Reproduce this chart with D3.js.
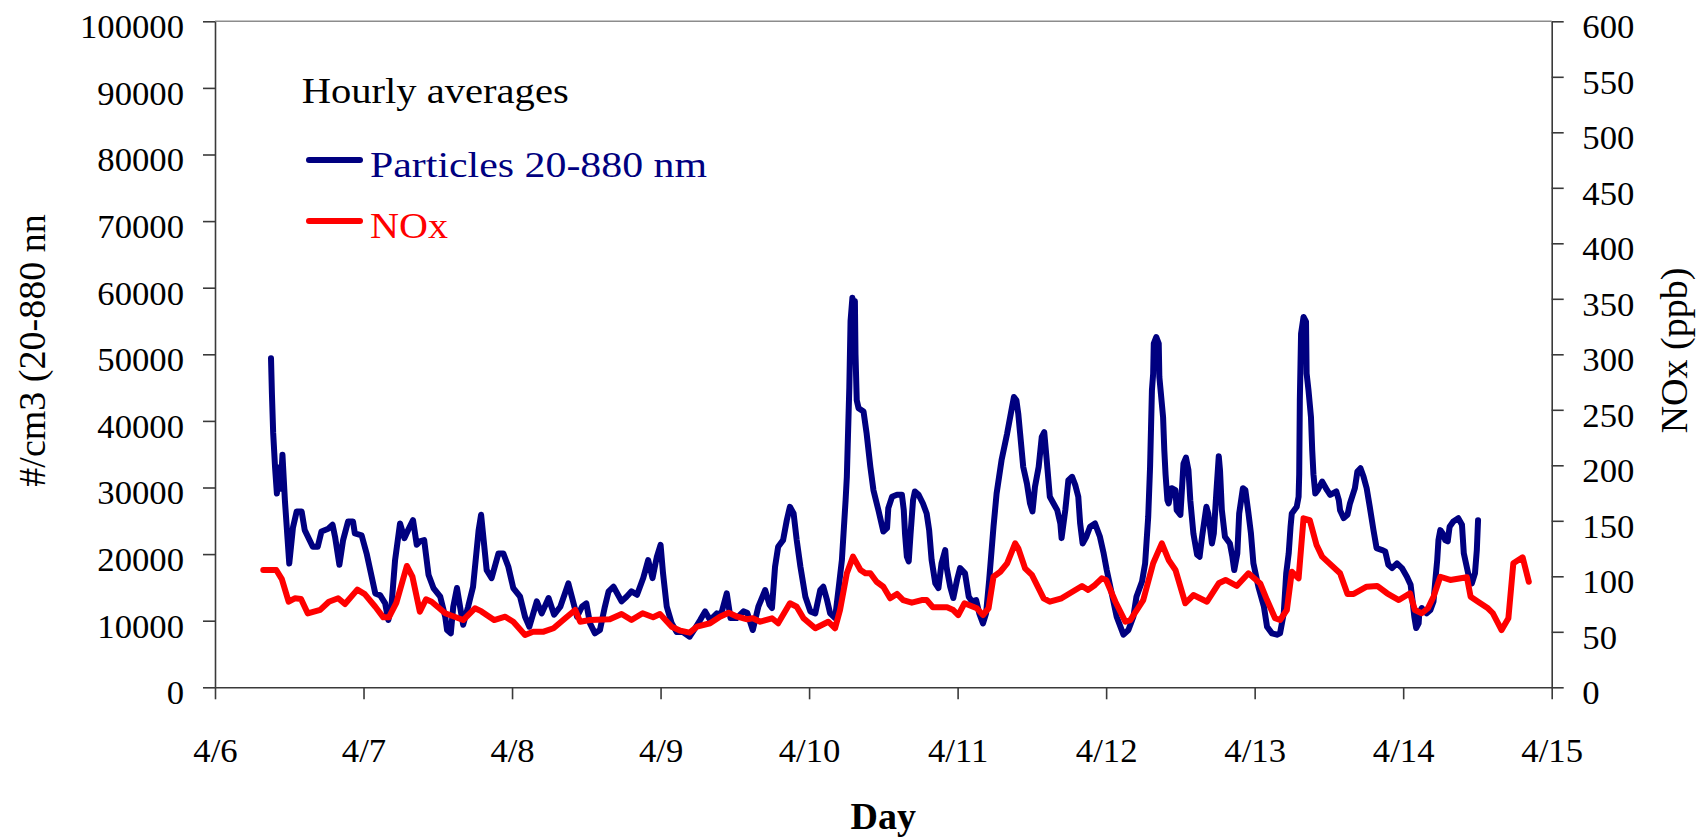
<!DOCTYPE html>
<html><head><meta charset="utf-8">
<script src="https://cdn.jsdelivr.net/npm/d3@7"></script>
<style>
body{margin:0;background:#fff}
svg{display:block}
text{font-family:"Liberation Serif","Times New Roman",serif}
</style>
</head><body>
<svg id="c" width="1704" height="838"></svg>
<script>
// ---- data (hours since 4/6 00:00) ----
const dayLabels = ["4/6","4/7","4/8","4/9","4/10","4/11","4/12","4/13","4/14","4/15"];
const dayTicks = [0,24,48,72,96,120,144,168,192,216];
const leftTicks = [0,10000,20000,30000,40000,50000,60000,70000,80000,90000,100000];
const rightTicks = [0,50,100,150,200,250,300,350,400,450,500,550,600];

const particles = [
[9.05,49400],[9.2,44000],[9.4,38200],[9.7,33100],[10.0,29100],[10.3,33000],[10.6,29800],[10.9,34900],[11.3,28000],[12.0,18600],
[12.6,24000],[13.2,26400],[14.0,26400],[14.5,23600],[15.8,21100],[16.6,21100],[17.2,23400],[18.3,23800],[19.0,24400],[19.4,22600],
[20.1,18400],[20.7,22100],[21.5,24900],[22.3,24900],[22.6,23100],[23.7,22800],[24.5,20100],[25.9,14100],[26.7,13800],[27.5,12600],
[28.0,10100],[28.5,12000],[29.1,19100],[29.9,24600],[30.6,22400],[31.2,23600],[32.0,25100],[32.6,21400],[33.1,21900],[33.8,22100],
[34.5,16900],[35.3,14900],[36.4,13600],[37.2,10600],[37.5,8600],[38.1,8100],[38.5,12100],[39.1,14900],[39.6,12100],[40.1,9400],
[40.9,12100],[41.7,15100],[42.6,23600],[43.0,25900],[43.9,17600],[44.7,16400],[45.8,20100],[46.6,20100],[47.4,18100],[48.2,14900],
[49.3,13600],[50.1,10600],[50.8,9100],[52.0,12900],[52.8,11100],[53.9,13400],[54.8,10900],[55.8,12100],[57.1,15600],[57.8,13100],
[58.5,10600],[59.3,12100],[60.0,12600],[60.6,9600],[61.4,8100],[62.2,8600],[63.0,12100],[63.6,14400],[64.4,15100],[65.7,12900],
[66.5,13600],[67.3,14400],[68.2,13900],[69.2,16400],[70.0,19100],[70.7,16400],[71.4,19600],[72.0,21400],[72.4,17100],[73.0,12100],
[73.8,9600],[74.6,8300],[75.6,8300],[76.7,7600],[77.6,8900],[78.4,10100],[79.2,11400],[80.0,10100],[81.1,11100],[81.8,11000],
[82.7,14100],[83.3,10400],[84.3,10400],[85.4,11400],[86.0,11200],[86.9,8600],[87.8,12100],[88.9,14600],[89.6,12400],[90.0,11900],
[90.5,18100],[91.0,21100],[91.8,22100],[92.4,25100],[92.9,27100],[93.5,26100],[94.0,22100],[94.6,18100],[95.4,13600],[96.2,11400],
[97.0,11100],[97.8,14600],[98.3,15100],[98.9,13100],[99.4,11100],[100.2,10400],[100.8,15100],[101.3,19100],[101.9,28100],[102.1,31600],
[102.5,45000],[102.7,55000],[103.0,58500],[103.2,56500],[103.4,58000],[103.5,50000],[103.7,43100],[104.0,41900],[104.8,41400],[105.3,38100],
[105.9,33100],[106.4,29600],[107.2,26600],[108.0,23400],[108.6,23900],[108.8,26900],[109.4,28600],[110.2,28900],[111.0,28900],[111.3,26600],
[111.5,23100],[111.8,19600],[112.1,18900],[112.4,23100],[112.8,28100],[113.1,29400],[113.7,28900],[114.4,27600],[115.0,26100],[115.4,23600],
[115.8,19100],[116.4,15600],[116.9,14900],[117.4,18600],[118.0,20600],[118.2,18100],[118.8,15100],[119.3,13400],[119.9,16100],[120.4,17900],
[121.2,17100],[121.8,13600],[122.3,12900],[123.0,13100],[123.5,11100],[124.1,9600],[124.6,11100],[125.1,16100],[125.8,24100],[126.3,29100],
[127.1,34100],[128.0,38100],[128.8,42100],[129.1,43600],[129.5,43100],[129.8,41100],[130.1,38100],[130.6,33100],[131.2,30600],[131.7,27600],
[132.1,26400],[132.5,30100],[133.1,33100],[133.6,37600],[134.0,38300],[134.4,34100],[134.9,28600],[135.5,27600],[136.1,26600],[136.6,24600],
[136.8,22400],[137.4,26600],[137.9,31100],[138.5,31600],[139.0,30400],[139.5,28600],[139.8,24600],[140.2,21600],[140.8,22600],[141.4,24100],
[142.2,24600],[143.0,22600],[143.6,20100],[144.1,17600],[144.9,14100],[145.7,10600],[146.8,7900],[147.6,8600],[148.4,10600],[148.9,13600],
[149.8,15900],[150.3,18600],[150.8,25600],[151.1,33100],[151.4,44600],[151.6,47100],[151.7,51600],[152.1,52600],[152.5,51600],[152.6,46600],
[152.8,44600],[153.2,40600],[153.4,35600],[153.6,32000],[153.9,28100],[154.1,27600],[154.6,29900],[155.2,29600],[155.4,26600],[156.0,25900],
[156.5,33600],[156.9,34500],[157.3,32600],[157.6,28100],[158.1,23100],[158.7,19900],[159.1,19600],[159.5,22600],[160.2,27100],[160.5,26100],
[161.1,21600],[161.4,23100],[161.8,29100],[162.2,34700],[162.4,32600],[162.7,26600],[163.2,22600],[164.0,21600],[164.4,19600],[164.7,17600],
[165.2,20100],[165.5,26100],[166.1,29900],[166.5,29600],[167.0,26100],[167.4,23100],[167.8,18600],[168.6,15100],[169.5,12100],[170.0,9100],
[170.8,8100],[171.6,7900],[172.1,8100],[172.7,11100],[173.1,17100],[173.5,20100],[173.8,24100],[174.0,26100],[174.8,27100],[175.1,28600],
[175.2,32000],[175.3,43100],[175.5,53100],[175.9,55600],[176.3,54900],[176.4,47100],[176.7,44600],[177.1,40600],[177.3,35600],[177.5,32000],
[177.8,29100],[178.2,29600],[178.9,30900],[179.7,29600],[180.2,28900],[181.2,29400],[181.6,28100],[181.8,26600],[182.4,25400],[183.0,25900],
[183.4,27600],[184.2,29900],[184.6,32400],[185.1,32900],[185.6,31600],[186.1,29900],[186.6,27100],[187.2,23600],[187.7,20900],[188.6,20600],
[189.1,20400],[189.6,18400],[190.2,17900],[191.0,18600],[191.8,17900],[192.6,16600],[193.2,15400],[193.5,13100],[193.8,10600],[194.1,8900],
[194.5,9600],[194.6,11100],[195.0,11900],[195.8,11100],[196.4,11600],[196.9,12900],[197.2,16100],[197.5,19100],[197.7,22100],[198.0,23600],
[198.4,23100],[198.8,22100],[199.2,21900],[199.5,24100],[200.1,24900],[200.9,25400],[201.5,24400],[201.8,20100],[202.5,17100],[203.1,15600],
[203.6,17100],[203.9,20600],[204.1,25100]
];

const nox = [
[7.8,105.7],[9.9,105.7],[10.8,97.5],[11.9,77.1],[12.9,80.2],[13.9,79.6],[15.0,66.5],[17.0,69.7],[18.4,77.1],[19.9,80.2],
[21.0,75.0],[23.0,88.0],[24.2,84.0],[25.9,72.6],[27.2,63.0],[28.1,63.0],[29.3,76.0],[31.0,109.3],[31.9,99.6],[33.1,68.1],
[34.1,79.3],[35.0,77.1],[37.2,66.7],[40.1,60.6],[42.0,71.2],[43.0,68.6],[45.1,60.6],[46.9,63.6],[48.2,59.1],[50.1,47.1],
[51.4,50.1],[53.1,50.1],[54.7,53.2],[56.6,62.2],[58.2,69.6],[59.0,59.1],[60.6,60.6],[63.8,61.3],[65.7,66.0],[67.3,60.6],
[69.1,66.7],[70.8,63.1],[71.9,66.0],[73.8,54.6],[75.2,51.0],[76.7,49.2],[77.9,54.6],[80.0,57.7],[81.6,63.6],[83.0,67.2],
[84.4,63.6],[86.0,61.3],[86.9,62.2],[88.1,59.1],[90.0,62.2],[91.0,57.7],[92.9,75.7],[94.0,72.6],[95.1,62.2],[97.0,53.2],
[99.1,59.1],[100.2,53.2],[101.0,69.6],[102.1,102.7],[103.1,117.7],[104.3,105.7],[105.1,102.7],[105.9,102.7],[106.9,95.1],[108.0,90.6],
[109.1,80.2],[110.2,84.1],[111.2,78.6],[112.6,76.2],[114.2,78.6],[115.0,78.6],[116.0,72.1],[118.3,72.1],[119.3,69.6],[120.1,65.1],
[121.1,75.7],[123.1,71.2],[124.1,65.1],[125.0,71.2],[125.8,99.6],[126.9,104.1],[128.0,111.7],[129.3,129.7],[129.8,125.2],[130.9,107.2],
[132.0,101.2],[133.9,80.2],[134.9,77.1],[136.8,80.2],[140.1,91.3],[141.1,87.7],[142.2,92.2],[143.3,98.2],[144.0,96.7],[145.5,77.1],
[147.1,59.1],[147.9,60.6],[150.0,78.6],[151.6,111.7],[153.0,129.7],[154.1,114.7],[155.2,105.7],[156.8,75.7],[158.1,83.1],[160.3,77.1],
[162.2,93.7],[163.3,96.7],[165.1,91.3],[167.0,102.7],[168.9,93.5],[170.0,78.6],[171.3,62.2],[172.1,60.6],[173.2,69.6],[174.0,104.1],
[175.1,98.2],[175.9,152.2],[176.9,150.7],[178.0,128.2],[178.9,117.7],[181.8,102.7],[183.0,84.1],[184.0,84.1],[186.1,90.6],[187.8,91.3],
[189.4,84.7],[191.3,78.6],[193.1,84.7],[193.9,69.6],[195.0,66.7],[196.0,71.2],[196.9,81.6],[198.0,99.6],[199.6,96.7],[202.3,99.1],
[202.9,81.6],[204.1,77.1],[205.7,71.2],[206.5,66.7],[207.9,51.6],[209.0,62.2],[209.8,111.7],[211.3,117.1],[212.3,95.1]
];

// ---- layout ----
const svg = d3.select("#c");
const L = 215, R = 1551.7, T = 21.3, B = 687.3;
const x = d3.scaleLinear().domain([0, 216]).range([L, R]);
const yL = d3.scaleLinear().domain([0, 100000]).range([B, T]);
const yR = d3.scaleLinear().domain([0, 600]).range([B, T]);
const axisColor = "#3a3a3a";

svg.append("rect").attr("width",1704).attr("height",838).attr("fill","#fff");

// top border
svg.append("line").attr("x1",L).attr("x2",R).attr("y1",T).attr("y2",T)
  .attr("stroke","#8c8c8c").attr("stroke-width",1.5);

function styleAxis(g){
  g.select(".domain").attr("stroke",axisColor).attr("stroke-width",1.6);
  g.selectAll(".tick line").attr("stroke",axisColor).attr("stroke-width",1.6);
  g.selectAll(".tick text").attr("fill","#000").style("font-size","34.7px")
    .style("font-family",'"Liberation Serif","Times New Roman",serif');
}

const gL = svg.append("g").attr("transform",`translate(${L},0)`)
  .call(d3.axisLeft(yL).tickValues(leftTicks).tickSize(12).tickSizeOuter(0).tickPadding(19).tickFormat(d3.format("d")));
styleAxis(gL); gL.selectAll(".tick text").attr("dy","0.47em");

const gR = svg.append("g").attr("transform",`translate(${R},0)`)
  .call(d3.axisRight(yR).tickValues(rightTicks).tickSize(12).tickSizeOuter(0).tickPadding(18.6).tickFormat(d3.format("d")));
styleAxis(gR); gR.selectAll(".tick text").attr("dy","0.47em");

const gB = svg.append("g").attr("transform",`translate(0,${B})`)
  .call(d3.axisBottom(x).tickValues(dayTicks).tickSize(12).tickSizeOuter(0).tickFormat((d,i)=>dayLabels[i]));
styleAxis(gB); gB.selectAll(".tick text").attr("y",74.4).attr("dy","0");

// ---- series ----
const lineP = d3.line().x(d=>x(d[0])).y(d=>yL(d[1]));
const lineN = d3.line().x(d=>x(d[0])).y(d=>yR(d[1]));

svg.append("path").datum(particles).attr("d",lineP).attr("fill","none")
  .attr("stroke","#000080").attr("stroke-width",6).attr("stroke-linejoin","round").attr("stroke-linecap","round");
svg.append("path").datum(nox).attr("d",lineN).attr("fill","none")
  .attr("stroke","#ff0000").attr("stroke-width",6).attr("stroke-linejoin","round").attr("stroke-linecap","round");

// ---- legend ----
svg.append("text").attr("x",301.7).attr("y",102.7).style("font-size","36px").attr("fill","#000")
  .attr("textLength",267).attr("lengthAdjust","spacingAndGlyphs").text("Hourly averages");
const legend = [
  {label:"Particles 20-880 nm", color:"#000080", y:160, ty:177.3, w:337},
  {label:"NOx", color:"#ff0000", y:221, ty:238.3, w:78}
];
legend.forEach(l=>{
  svg.append("line").attr("x1",309).attr("x2",360).attr("y1",l.y).attr("y2",l.y)
    .attr("stroke",l.color).attr("stroke-width",6).attr("stroke-linecap","round");
  svg.append("text").attr("x",370).attr("y",l.ty).style("font-size","36px").attr("fill",l.color)
    .attr("textLength",l.w).attr("lengthAdjust","spacingAndGlyphs").text(l.label);
});

// ---- axis titles ----
svg.append("text").attr("transform","translate(45,350.5) rotate(-90)").attr("text-anchor","middle")
  .style("font-size","38px").attr("fill","#000").text("#/cm3 (20-880 nn");
svg.append("text").attr("transform","translate(1686.7,350.5) rotate(-90)").attr("text-anchor","middle")
  .style("font-size","38px").attr("fill","#000").text("NOx (ppb)");
svg.append("text").attr("x",883.3).attr("y",829).attr("text-anchor","middle")
  .style("font-size","38px").style("font-weight","bold").attr("fill","#000").text("Day");
</script>
</body></html>
